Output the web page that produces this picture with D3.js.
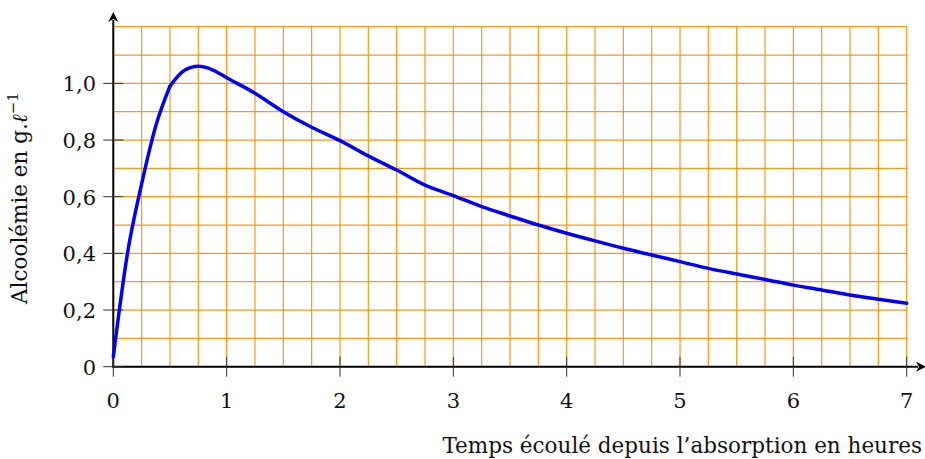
<!DOCTYPE html>
<html>
<head>
<meta charset="utf-8">
<script src="https://cdn.jsdelivr.net/npm/d3@7"></script>
<style>
  body { margin: 0; background: #fff; }
  text { font-family: "DejaVu Serif", serif; fill: #111; }
</style>
</head>
<body>
<div id="chart"></div>
<script>
/* CONSTANTS AND GLOBALS */
const width = 925,
  height = 459;

// data
const hours = [0, 0.125, 0.25, 0.375, 0.5, 0.625, 0.75, 0.875, 1, 1.25, 1.5, 1.75, 2, 2.25, 2.5, 2.75,
  3, 3.25, 3.5, 3.75, 4, 4.25, 4.5, 4.75, 5, 5.25, 5.5, 5.75, 6, 6.25, 6.5, 6.75, 7];
const alcool = [0.035, 0.4, 0.645, 0.85, 0.99, 1.045, 1.06, 1.048, 1.02, 0.965, 0.90, 0.845, 0.798, 0.744, 0.694, 0.641,
  0.604, 0.565, 0.532, 0.50, 0.471, 0.444, 0.418, 0.394, 0.371, 0.347, 0.327, 0.308, 0.288, 0.271, 0.253, 0.238, 0.224];
const xTicks = [0, 1, 2, 3, 4, 5, 6, 7];
const yTicks = [0, 0.2, 0.4, 0.6, 0.8, 1.0];
const yTickLabels = ["0", "0,2", "0,4", "0,6", "0,8", "1,0"];

const data = hours.map((h, i) => ({ h: h, v: alcool[i] }));
// the curve has a corner at 0.5 h : rising part and falling part drawn apart
const rising = data.filter(d => d.h <= 0.5);
const falling = data.filter(d => d.h >= 0.5);

/* SCALES */
const xScale = d3.scaleLinear().domain([0, 7]).range([113.3, 906.7]);
const yScale = d3.scaleLinear().domain([0, 1.2]).range([366.7, 26.7]);

const svg = d3.select("#chart")
  .append("svg")
  .attr("width", width)
  .attr("height", height);

svg.append("defs").append("marker")
  .attr("id", "arrow")
  .attr("viewBox", "0 0 10 10")
  .attr("refX", 2).attr("refY", 5)
  .attr("markerWidth", 5).attr("markerHeight", 5)
  .attr("markerUnits", "strokeWidth")
  .attr("orient", "auto")
  .append("path")
  .attr("d", "M0,0 L10,5 L0,10 L3,5 Z")
  .attr("fill", "#000");

/* GRID */
const vLines = d3.range(0, 7.001, 0.25);
const hLines = d3.range(0, 1.2001, 0.1);

svg.append("g").attr("class", "grid")
  .selectAll("line.v")
  .data(vLines)
  .join("line")
  .attr("class", "v")
  .attr("x1", d => xScale(d)).attr("x2", d => xScale(d))
  .attr("y1", yScale(0)).attr("y2", yScale(1.2))
  .attr("stroke", "#ff8c00").attr("stroke-width", 1.2).attr("opacity", 0.9);

svg.append("g").attr("class", "grid")
  .selectAll("line.h")
  .data(hLines)
  .join("line")
  .attr("class", "h")
  .attr("x1", xScale(0)).attr("x2", xScale(7))
  .attr("y1", d => yScale(d)).attr("y2", d => yScale(d))
  .attr("stroke", "#ff8c00").attr("stroke-width", 1.2).attr("opacity", 0.9);

/* AXES */
svg.append("line")
  .attr("x1", xScale(0) - 1).attr("x2", 918)
  .attr("y1", yScale(0)).attr("y2", yScale(0))
  .attr("stroke", "#000").attr("stroke-width", 2)
  .attr("marker-end", "url(#arrow)");

svg.append("line")
  .attr("x1", xScale(0)).attr("x2", xScale(0))
  .attr("y1", yScale(0) + 1).attr("y2", 20)
  .attr("stroke", "#000").attr("stroke-width", 2)
  .attr("marker-end", "url(#arrow)");

// ticks
svg.selectAll("line.xtick")
  .data(xTicks)
  .join("line")
  .attr("class", "xtick")
  .attr("x1", d => xScale(d)).attr("x2", d => xScale(d))
  .attr("y1", yScale(0) - 10).attr("y2", yScale(0) + 10)
  .attr("stroke", "#333").attr("stroke-width", 1);

svg.selectAll("line.ytick")
  .data(yTicks)
  .join("line")
  .attr("class", "ytick")
  .attr("x1", xScale(0) - 10).attr("x2", xScale(0) + 10)
  .attr("y1", d => yScale(d)).attr("y2", d => yScale(d))
  .attr("stroke", "#333").attr("stroke-width", 1);

svg.selectAll("text.xlab")
  .data(xTicks)
  .join("text")
  .attr("class", "xlab")
  .attr("x", d => xScale(d))
  .attr("y", 408)
  .attr("text-anchor", "middle")
  .attr("font-size", 21)
  .text(d => d);

svg.selectAll("text.ylab")
  .data(yTicks)
  .join("text")
  .attr("class", "ylab")
  .attr("x", 96)
  .attr("y", d => yScale(d) + 8)
  .attr("text-anchor", "end")
  .attr("font-size", 21)
  .text((d, i) => yTickLabels[i]);

/* CURVE */
const line = d3.line()
  .x(d => xScale(d.h))
  .y(d => yScale(d.v))
  .curve(d3.curveMonotoneX);

svg.selectAll("path.curve")
  .data([rising, falling])
  .join("path")
  .attr("class", "curve")
  .attr("fill", "none")
  .attr("stroke", "#0000ff")
  .attr("stroke-width", 3.5)
  .attr("stroke-linejoin", "round")
  .attr("stroke-linecap", "round")
  .attr("d", line);

/* AXIS TITLES */
svg.append("text")
  .attr("x", 922)
  .attr("y", 453)
  .attr("text-anchor", "end")
  .attr("font-size", 21.5)
  .text("Temps écoulé depuis l’absorption en heures");

const yt = svg.append("text")
  .attr("transform", "translate(27,198) rotate(-90)")
  .attr("text-anchor", "middle")
  .attr("font-size", 21.5);
yt.append("tspan").text("Alcoolémie en g.");
yt.append("tspan").attr("font-style", "italic").text("ℓ");
yt.append("tspan").attr("font-size", 15).attr("dy", -9).text("−1");
</script>
</body>
</html>
